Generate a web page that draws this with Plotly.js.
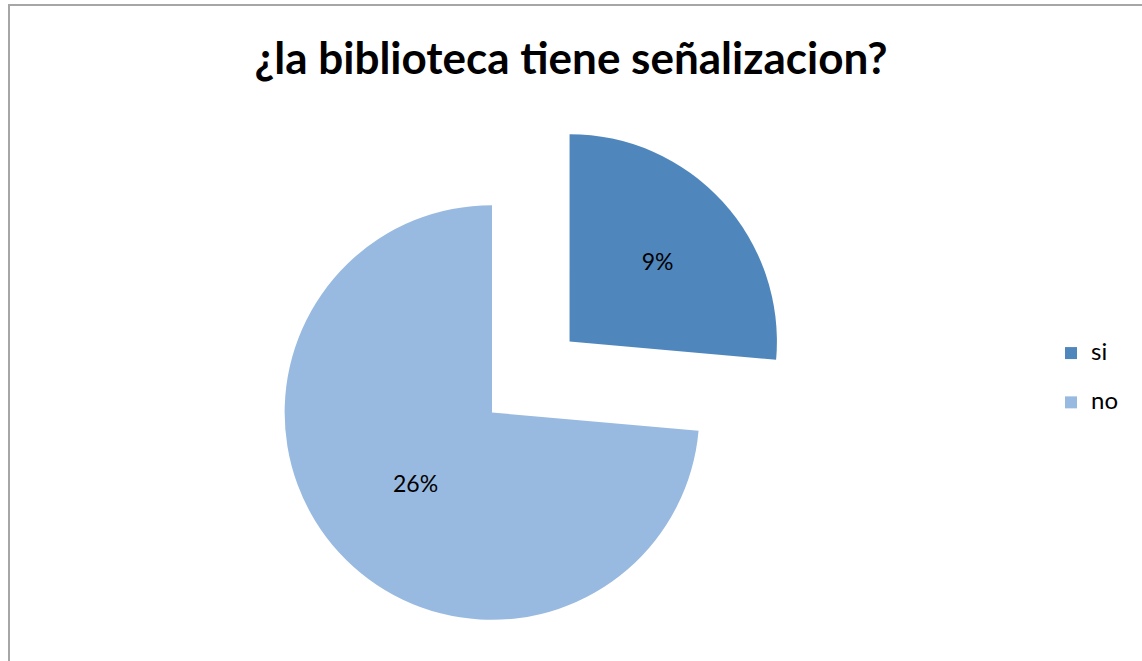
<!DOCTYPE html>
<html>
<head>
<meta charset="utf-8">
<script src="https://cdn.plot.ly/plotly-3.0.1.min.js"></script>
<style>
  html, body { margin: 0; padding: 0; overflow: hidden; background: #fff; }
  #chart { width: 1142px; height: 740px; }
</style>
</head>
<body>
<div id="chart"></div>
<script>
// Data
const categories = ['si', 'no'];
const values = [0.094, 0.262];
const sliceColors = ['#4F87BD', '#99BAE0'];
const pulls = [0.507, 0];
const chartTitle = '¿la biblioteca tiene señalizacion?';

const W = 1142, H = 740, MT = 100, MB = 15;

// legend labels: keep category text, add a blank second line for Excel-like spacing
const legendLabels = categories.map(c => "<span style='font-size:24px'>" + c + "</span><br>");

const trace = {
  type: 'pie',
  labels: legendLabels,
  values: values,
  sort: false,
  direction: 'clockwise',
  rotation: 0,
  pull: pulls,
  marker: { colors: sliceColors, line: { width: 0 } },
  texttemplate: '%{value:.0%}',
  textposition: 'inside',
  insidetextorientation: 'horizontal',
  textfont: { family: 'Lato, sans-serif', size: 23, color: '#000000' },
  hoverinfo: 'none',
  domain: { x: [(492 - 350) / W, (492 + 350) / W], y: [0, 1] }
};

const plotH = H - MT - MB;
const layout = {
  width: W,
  height: H,
  margin: { l: 0, r: 0, t: MT, b: MB, autoexpand: false },
  paper_bgcolor: '#ffffff',
  plot_bgcolor: '#ffffff',
  title: {
    text: '<b>' + chartTitle + '</b>',
    font: { family: 'Lato, sans-serif', size: 44, color: '#000000' },
    x: 0.5, xanchor: 'center', xref: 'container',
    y: 1 - 43 / H, yanchor: 'top', yref: 'container'
  },
  showlegend: true,
  legend: {
    x: 1051 / W, xanchor: 'left',
    y: 1 - (335 - MT) / plotH, yanchor: 'top',
    valign: 'top',
    font: { family: 'Lato, sans-serif', size: 17.8, color: '#000000' },
    bgcolor: 'rgba(0,0,0,0)'
  },
  shapes: [
    { type: 'line', xref: 'paper', yref: 'paper', x0: 9 / W, x1: 9 / W,
      y0: 1 - (5 - MT) / plotH, y1: 1 - (H + 20 - MT) / plotH,
      line: { color: '#A6A6A6', width: 2 } },
    { type: 'line', xref: 'paper', yref: 'paper', x0: 8 / W, x1: (W + 20) / W,
      y0: 1 - (5 - MT) / plotH, y1: 1 - (5 - MT) / plotH,
      line: { color: '#A6A6A6', width: 2 } }
  ]
};

Plotly.newPlot('chart', [trace], layout, { displayModeBar: false, staticPlot: true });
</script>
</body>
</html>
